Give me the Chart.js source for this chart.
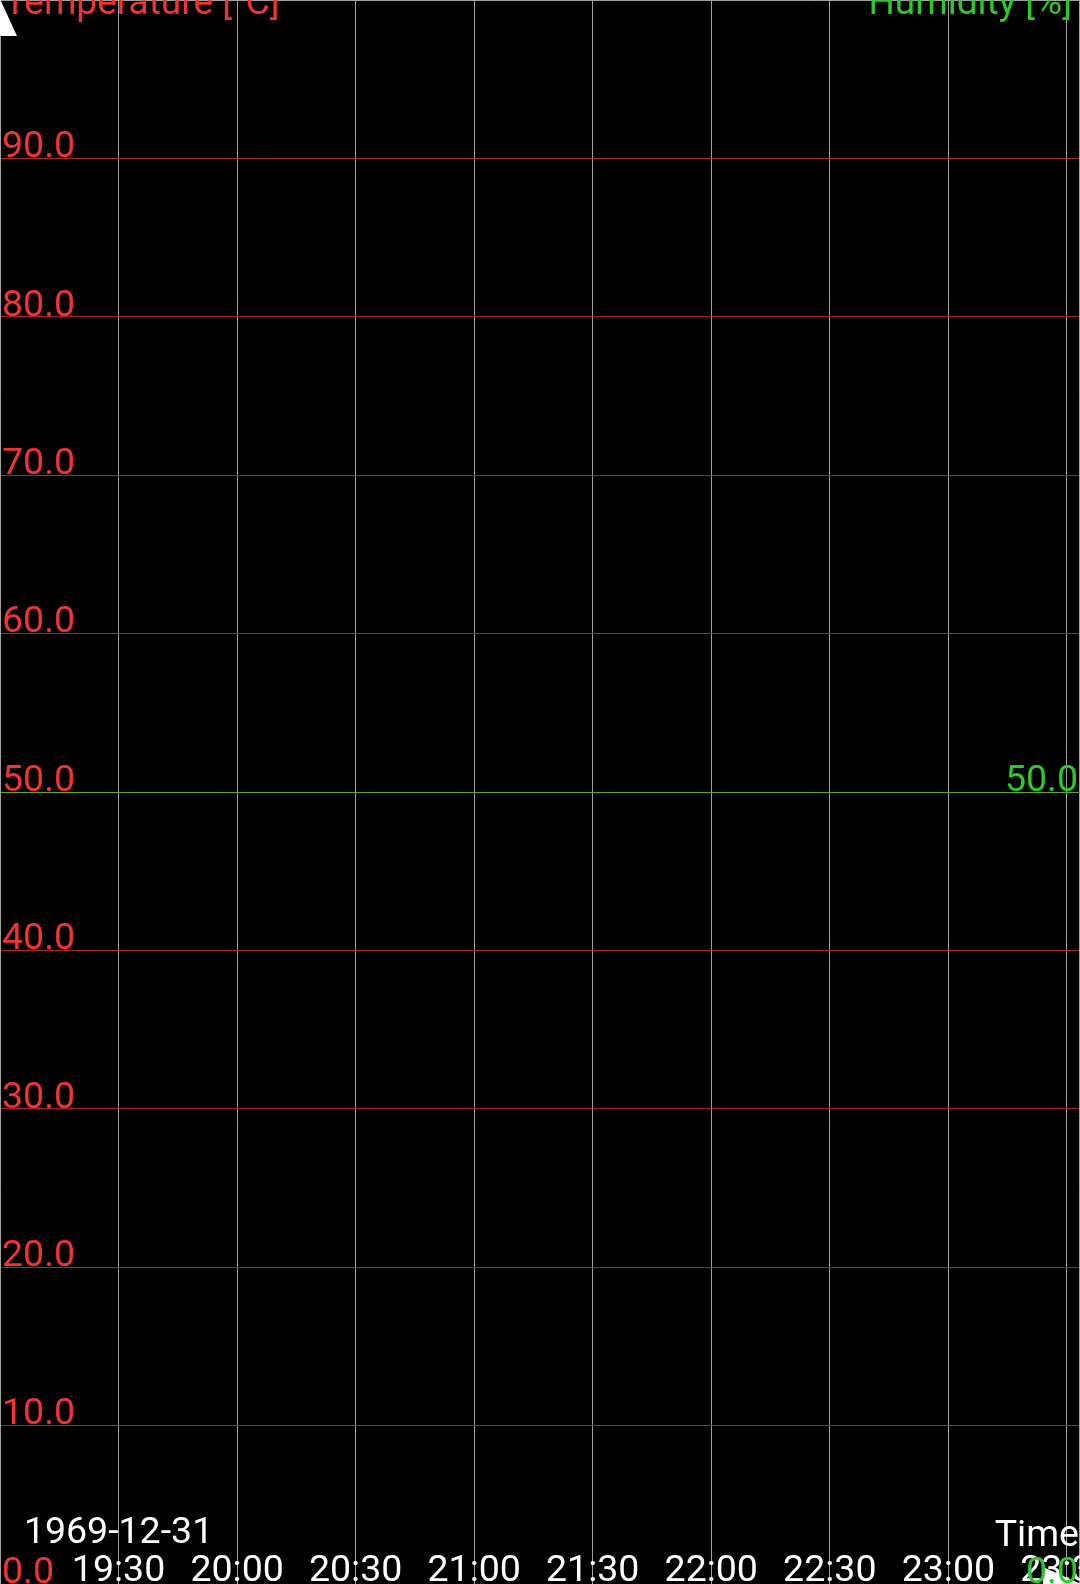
<!DOCTYPE html>
<html>
<head>
<meta charset="utf-8">
<style>
  html, body { margin: 0; padding: 0; background: #000; overflow: hidden; }
  #wrap { width: 1080px; height: 1584px; position: relative; }
</style>
<script src="https://cdn.jsdelivr.net/npm/chart.js@4.4.1/dist/chart.umd.min.js"></script>
</head>
<body>
<div id="wrap"><canvas id="c"></canvas></div>
<script>
// ---- data ----
const dateLabel = '1969-12-31';
const xMin = 0;            // seconds since start (19:00)
const xMax = 16384;
const xTickValues = [1800, 3600, 5400, 7200, 9000, 10800, 12600, 14400, 16200];
const xTickLabels = ['19:30', '20:00', '20:30', '21:00', '21:30', '22:00', '22:30', '23:00', '23:30'];
const temperatureValues = [];   // no samples plotted
const humidityValues = [];      // no samples plotted
const tempMin = 0, tempMax = 100, tempStep = 10;
const humMin = 0, humMax = 100, humStep = 50;
const tempTitle = 'Temperature [°C]';
const humTitle = 'Humidity [%]';
const xTitle = 'Time';

// ---- styles ----
const FONT = 'Roboto';
const FSIZE = 37.5;
const TITLE_SIZE = 37;
const RED_TEXT = '#f03434';
const RED_GRID = '#a82626';
const GREEN_TEXT = '#2cc82c';
const GREEN_GRID = '#62a82a';
const GRAY = '#a0a0a0';

const extras = {
  id: 'extras',
  beforeDatasetsDraw(chart) {
    const {ctx, chartArea} = chart;
    ctx.save();
    ctx.fillStyle = '#ffffff';
    // y-axis arrow head (top-left)
    ctx.beginPath();
    ctx.moveTo(chartArea.left, chartArea.top - 1);
    ctx.lineTo(chartArea.left + 17, chartArea.top + 36);
    ctx.lineTo(chartArea.left - 17, chartArea.top + 36);
    ctx.closePath();
    ctx.fill();
    // x-axis arrow head (bottom-right)
    ctx.beginPath();
    ctx.moveTo(chartArea.right + 2, chartArea.bottom);
    ctx.lineTo(chartArea.right - 36, chartArea.bottom - 17);
    ctx.lineTo(chartArea.right - 36, chartArea.bottom + 17);
    ctx.closePath();
    ctx.fill();
    ctx.restore();
  },
  afterDraw(chart) {
    const {ctx, chartArea} = chart;
    ctx.save();
    ctx.font = TITLE_SIZE + 'px ' + FONT;
    ctx.textBaseline = 'alphabetic';
    ctx.fillStyle = RED_TEXT;
    ctx.textAlign = 'left';
    ctx.fillText(tempTitle, chartArea.left + 4, chartArea.top + 14);
    ctx.fillStyle = GREEN_TEXT;
    ctx.textAlign = 'right';
    ctx.fillText(humTitle, chartArea.right - 7, chartArea.top + 14);
    ctx.restore();
  }
};

const fontMain = {family: FONT, size: FSIZE, lineHeight: '38px'};

new Chart(document.getElementById('c'), {
  type: 'line',
  data: {
    datasets: [
      {label: 'Temperature', data: temperatureValues, yAxisID: 'y', borderColor: RED_TEXT, pointRadius: 0},
      {label: 'Humidity', data: humidityValues, yAxisID: 'y1', borderColor: GREEN_TEXT, pointRadius: 0}
    ]
  },
  options: {
    responsive: true,
    maintainAspectRatio: false,
    devicePixelRatio: 1,
    animation: false,
    layout: {padding: 0, autoPadding: false},
    plugins: {legend: {display: false}, tooltip: {enabled: false}, title: {display: false}},
    scales: {
      x: {
        type: 'linear',
        position: 'bottom',
        min: xMin,
        max: xMax,
        afterBuildTicks: (s) => { s.ticks = xTickValues.map(v => ({value: v})); },
        afterFit: (s) => { s.height = 0; s.paddingLeft = 0; s.paddingRight = 0; },
        ticks: {
          autoSkip: false, maxRotation: 0, minRotation: 0, mirror: true,
          padding: 31, color: '#ffffff', font: fontMain, z: 1,
          callback: (v, i) => [i === 0 ? dateLabel : '', xTickLabels[i]]
        },
        grid: {color: GRAY, lineWidth: 1, drawTicks: false, z: -3},
        border: {display: false},
        title: {display: true, text: xTitle, align: 'end', color: '#ffffff', font: fontMain, padding: {top: 0, bottom: 28}}
      },
      y: {
        type: 'linear',
        position: 'left',
        min: tempMin, max: tempMax,
        afterFit: (s) => { s.width = 0; s.paddingTop = 0; s.paddingBottom = 0; },
        ticks: {
          stepSize: tempStep, mirror: true, padding: 2, labelOffset: -10.5, color: RED_TEXT, font: fontMain, z: 1,
          callback: (v) => Number(v).toFixed(1)
        },
        grid: {
          color: (c) => c.tick && c.tick.value === tempMax ? GRAY : (c.tick && c.tick.value === tempMin ? 'rgba(0,0,0,0)' : RED_GRID),
          lineWidth: 1, drawTicks: false, z: -2
        },
        border: {display: true, color: GRAY, width: 1}
      },
      y1: {
        type: 'linear',
        position: 'right',
        min: humMin, max: humMax,
        afterFit: (s) => { s.width = 1; s.paddingTop = 0; s.paddingBottom = 0; },
        ticks: {
          stepSize: humStep, mirror: true, padding: -1, labelOffset: -10.5, color: GREEN_TEXT, font: fontMain, z: 1,
          callback: (v) => Number(v).toFixed(1)
        },
        grid: {
          color: (c) => c.tick && (c.tick.value === humMin || c.tick.value === humMax) ? 'rgba(0,0,0,0)' : GREEN_GRID,
          lineWidth: 1, drawTicks: false, z: -1
        },
        border: {display: true, color: GRAY, width: 1}
      }
    }
  },
  plugins: [extras]
});
</script>
</body>
</html>
